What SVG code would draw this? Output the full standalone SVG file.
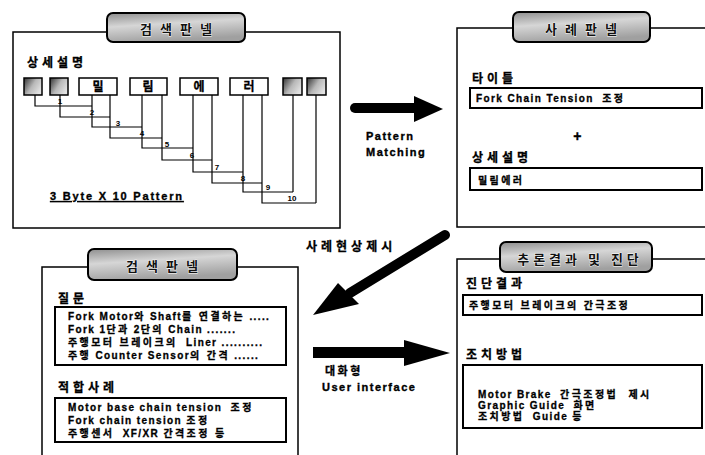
<svg xmlns="http://www.w3.org/2000/svg" width="705" height="455" viewBox="0 0 705 455">
<defs>
<linearGradient id="tabg" x1="0" y1="0" x2="0.3" y2="1">
 <stop offset="0" stop-color="#8e8e8e"/>
 <stop offset="0.45" stop-color="#d6d6d6"/>
 <stop offset="1" stop-color="#a0a0a0"/>
</linearGradient>
<linearGradient id="darkbox" x1="0" y1="0" x2="1" y2="0.6">
 <stop offset="0" stop-color="#303030"/>
 <stop offset="0.55" stop-color="#b8b8b8"/>
 <stop offset="1" stop-color="#e2e2e2"/>
</linearGradient>
</defs>
<style>
.frame{fill:none;stroke:#000;stroke-width:1.5}
.tab{fill:url(#tabg);stroke:#000;stroke-width:2}
.tabt{font-family:"Noto Sans CJK KR",sans-serif;font-weight:700;font-size:13px;fill:#111;stroke:#fff;stroke-width:0.8px;paint-order:stroke;text-anchor:middle;letter-spacing:8px}
.lab{font-family:"Noto Sans CJK KR",sans-serif;font-weight:700;font-size:12px;fill:#000;stroke:#000;stroke-width:0.3px;letter-spacing:4px}
.box{fill:#fff;stroke:#000;stroke-width:2}
.txt{font-family:"Liberation Sans","Noto Sans CJK KR",sans-serif;font-weight:700;font-size:10px;fill:#000;stroke:#000;stroke-width:0.3px;letter-spacing:1.4px;white-space:pre}
.k{letter-spacing:2.4px}
.wire{fill:none;stroke:#000;stroke-width:1.2}
.num{font-family:"Liberation Sans",sans-serif;font-weight:700;font-size:8px;fill:#000;text-anchor:middle}
.cbox{fill:#fff;stroke:#000;stroke-width:1.5}
.dbox{fill:url(#darkbox);stroke:#000;stroke-width:1.5}
.ch{font-family:"Noto Sans CJK KR",sans-serif;font-weight:700;font-size:12px;text-anchor:middle;stroke:#000;stroke-width:0.3px}
.big{font-family:"Liberation Sans","Noto Sans CJK KR",sans-serif;font-weight:700;font-size:11px;letter-spacing:1.5px;fill:#000;stroke:#000;stroke-width:0.35px}
.arr{fill:#000}
.shaft{stroke:#000;stroke-width:10;fill:none}
</style>

<g id="search-panel">
 <rect class="frame" x="13" y="32" width="327" height="196"/>
 <rect class="tab" x="107" y="13" width="138" height="29" rx="6"/>
 <text class="tabt" x="180" y="34">검색판넬</text>
 <text class="lab" x="27" y="67">상세설명</text>
 <g id="pattern-boxes">
  <rect class="dbox" x="24" y="78" width="18" height="17"/>
  <rect class="dbox" x="50" y="78" width="18" height="17"/>
  <rect class="cbox" x="79" y="78" width="38" height="17"/>
  <rect class="cbox" x="130" y="78" width="37" height="17"/>
  <rect class="cbox" x="180" y="78" width="38" height="17"/>
  <rect class="cbox" x="230" y="78" width="38" height="17"/>
  <rect class="dbox" x="283" y="78" width="19" height="17"/>
  <rect class="dbox" x="307" y="78" width="19" height="17"/>
  <text class="ch" x="98" y="91">밀</text>
  <text class="ch" x="148" y="91">림</text>
  <text class="ch" x="199" y="91">에</text>
  <text class="ch" x="249" y="91">러</text>
 </g>
 <g id="pattern-wires">
  <path class="wire" d="M35,95V106H92"/>
  <path class="wire" d="M60,95V117H110"/>
  <path class="wire" d="M92,95V127H142"/>
  <path class="wire" d="M110,95V138H162"/>
  <path class="wire" d="M142,95V148H193"/>
  <path class="wire" d="M162,95V160H212"/>
  <path class="wire" d="M193,95V172H243"/>
  <path class="wire" d="M212,95V183H262"/>
  <path class="wire" d="M243,95V192H293"/>
  <path class="wire" d="M262,95V203H316"/>
  <path class="wire" d="M293,95V192"/>
  <path class="wire" d="M316,95V203"/>
  <text class="num" x="60" y="104">1</text>
  <text class="num" x="92" y="115">2</text>
  <text class="num" x="118" y="126">3</text>
  <text class="num" x="142" y="136">4</text>
  <text class="num" x="167" y="147">5</text>
  <text class="num" x="192" y="158">6</text>
  <text class="num" x="217" y="170">7</text>
  <text class="num" x="243" y="181">8</text>
  <text class="num" x="268" y="190">9</text>
  <text class="num" x="292" y="201">10</text>
 </g>
 <text class="big" x="50" y="200" style="letter-spacing:1.8px" text-decoration="underline">3 Byte X 10 Pattern</text>
</g>

<g id="case-panel">
 <path class="frame" d="M705,28H457V227H705"/>
 <rect class="tab" x="513" y="12" width="137" height="30" rx="6"/>
 <text class="tabt" x="585" y="34">사례판넬</text>
 <text class="lab" x="472" y="83">타이틀</text>
 <rect class="box" x="470" y="88" width="232" height="20"/>
 <text class="txt" x="476" y="102">Fork Chain Tension  <tspan class="k">조정</tspan></text>
 <text class="big" x="578" y="141" style="font-size:14px" text-anchor="middle">+</text>
 <text class="lab" x="472" y="162">상세설명</text>
 <rect class="box" x="470" y="168" width="232" height="22"/>
 <text class="txt" x="478" y="184"><tspan class="k">밀림에러</tspan></text>
</g>

<g id="query-panel">
 <path class="frame" d="M42,455V267H298V455"/>
 <rect class="tab" x="88" y="249" width="149" height="31" rx="6"/>
 <text class="tabt" x="166" y="271">검색판넬</text>
 <text class="lab" x="58" y="303">질문</text>
 <rect class="box" x="55" y="307" width="231" height="58"/>
 <text class="txt" x="68" y="320">Fork Motor<tspan class="k">와</tspan> Shaft<tspan class="k">를 연결하는</tspan> .....</text>
 <text class="txt" x="68" y="333">Fork 1<tspan class="k">단과</tspan> 2<tspan class="k">단의</tspan> Chain .......</text>
 <text class="txt" x="68" y="346"><tspan class="k">주행모터 브레이크의</tspan>  Liner ..........</text>
 <text class="txt" x="68" y="359"><tspan class="k">주행</tspan> Counter Sensor<tspan class="k">의 간격</tspan> ......</text>
 <text class="lab" x="58" y="392">적합사례</text>
 <rect class="box" x="55" y="398" width="231" height="44"/>
 <text class="txt" x="68" y="411">Motor base chain tension  <tspan class="k">조정</tspan></text>
 <text class="txt" x="68" y="424">Fork chain tension <tspan class="k">조정</tspan></text>
 <text class="txt" x="68" y="437"><tspan class="k">주행센서</tspan>  XF/XR <tspan class="k">간격조정 등</tspan></text>
</g>

<g id="result-panel">
 <path class="frame" d="M705,259H457V455"/>
 <rect class="tab" x="500" y="242" width="152" height="30" rx="6"/>
 <text class="tabt" x="580" y="264" style="letter-spacing:4px">추론결과 및 진단</text>
 <text class="lab" x="466" y="288">진단결과</text>
 <rect class="box" x="463" y="295" width="239" height="20"/>
 <text class="txt" x="469" y="309"><tspan class="k">주행모터 브레이크의 간극조정</tspan></text>
 <text class="lab" x="466" y="359">조치방법</text>
 <rect class="box" x="463" y="365" width="239" height="63"/>
 <text class="txt" x="478" y="398">Motor Brake  <tspan class="k">간극조정법  제시</tspan></text>
 <text class="txt" x="478" y="409">Graphic Guide  <tspan class="k">화면</tspan></text>
 <text class="txt" x="478" y="420"><tspan class="k">조치방법</tspan>  Guide <tspan class="k">등</tspan></text>
</g>

<g id="connectors">
 <g id="pattern-matching">
  <line class="shaft" x1="355" y1="108" x2="420" y2="108" stroke-linecap="round"/>
  <polygon class="arr" points="414,96 443,109 414,122"/>
  <text class="big" x="366" y="140">Pattern</text>
  <text class="big" x="366" y="156">Matching</text>
 </g>
 <g id="case-present">
  <line class="shaft" x1="445" y1="235" x2="350" y2="293" stroke-linecap="round"/>
  <polygon class="arr" points="313,315 338,283 359,304"/>
  <text class="lab" x="306" y="251">사례현상제시</text>
 </g>
 <g id="interactive">
  <rect class="arr" x="313" y="347" width="95" height="11"/>
  <polygon class="arr" points="404,340 450,353 404,366"/>
  <text class="lab" x="325" y="375" style="font-size:11px;letter-spacing:2.5px">대화형</text>
  <text class="big" x="322" y="391">User interface</text>
 </g>
</g>
</svg>
